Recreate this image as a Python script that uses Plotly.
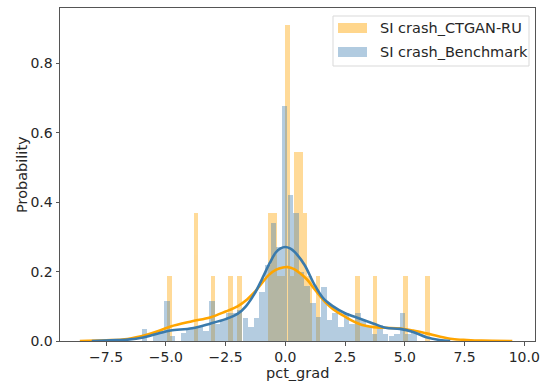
import plotly.graph_objects as go

# ---- data ----
orange_centers = [-4.85, -3.75, -3.02, -2.29, -1.92, -0.64, -0.46, -0.27, -0.09, 0.09,
                  0.27, 0.46, 0.64, 0.82, 1.01, 1.37, 3.02, 3.75, 5.03, 5.95]
orange_heights = [0.186, 0.37, 0.186, 0.186, 0.186, 0.37, 0.37, 0.186, 0.186, 0.912,
                  0.186, 0.546, 0.546, 0.37, 0.186, 0.186, 0.186, 0.186, 0.186, 0.186]
orange_width = 0.183

blue_centers = [-5.90, -5.67, -5.43, -5.20, -4.96, -4.73, -4.49, -4.26, -4.02, -3.79,
                -3.55, -3.32, -3.08, -2.85, -2.61, -2.38, -2.14, -1.91, -1.67, -1.44,
                -1.20, -0.97, -0.73, -0.50, -0.26, -0.03, 0.21, 0.44, 0.68, 0.91,
                1.15, 1.38, 1.62, 1.85, 2.09, 2.32, 2.56, 2.79, 3.03, 3.26,
                3.50, 3.73, 3.97, 4.20, 4.44, 4.67, 4.91, 5.14, 5.38, 5.61]
blue_heights = [0.035, 0.0, 0.02, 0.03, 0.116, 0.014, 0.0, 0.024, 0.037, 0.037,
                0.041, 0.03, 0.114, 0.05, 0.06, 0.08, 0.08, 0.09, 0.065, 0.04,
                0.065, 0.14, 0.22, 0.34, 0.27, 0.677, 0.42, 0.37, 0.2, 0.16,
                0.11, 0.07, 0.155, 0.06, 0.08, 0.04, 0.08, 0.05, 0.08, 0.06,
                0.04, 0.02, 0.045, 0.02, 0.015, 0.02, 0.08, 0.02, 0.03, 0.0]
blue_width = 0.235

orange_kde_x = [-8.6, -7.5, -6.6, -5.8, -5.25, -4.8, -3.9, -3.15, -2.5, -2.0, -1.6, -1.3,
                -1.0, -0.7, -0.4, -0.1, 0.1, 0.35, 0.6, 0.9, 1.25, 1.7, 2.0, 2.5, 3.1,
                3.7, 4.2, 4.8, 5.35, 5.9, 6.45, 7.0, 7.6, 8.2, 9.5]
orange_kde_y = [0.0, 0.002, 0.006, 0.018, 0.03, 0.042, 0.057, 0.068, 0.085, 0.1, 0.12, 0.14,
                0.165, 0.19, 0.205, 0.212, 0.213, 0.208, 0.196, 0.178, 0.147, 0.11, 0.092,
                0.07, 0.049, 0.04, 0.038, 0.036, 0.03, 0.022, 0.013, 0.006, 0.003, 0.001, 0.0]

blue_kde_x = [-8.1, -7.3, -6.6, -5.95, -5.25, -4.8, -3.9, -3.15, -2.5, -2.0, -1.65, -1.3,
              -1.0, -0.65, -0.4, -0.2, 0.0, 0.2, 0.4, 0.8, 1.2, 1.6, 2.0, 2.5, 3.1, 3.7,
              4.2, 4.8, 5.35, 5.9, 6.45, 6.9]
blue_kde_y = [0.0, 0.002, 0.004, 0.01, 0.023, 0.03, 0.037, 0.05, 0.063, 0.078, 0.1, 0.135,
              0.175, 0.225, 0.255, 0.267, 0.271, 0.267, 0.256, 0.22, 0.165, 0.122, 0.1,
              0.08, 0.065, 0.05, 0.038, 0.035, 0.026, 0.011, 0.003, 0.0]

x_tick_vals = [-7.5, -5.0, -2.5, 0.0, 2.5, 5.0, 7.5, 10.0]
x_tick_text = ["\u22127.5", "\u22125.0", "\u22122.5", "0.0", "2.5", "5.0", "7.5", "10.0"]
y_tick_vals = [0.0, 0.2, 0.4, 0.6, 0.8]
y_tick_text = ["0.0", "0.2", "0.4", "0.6", "0.8"]

series_names = ["SI crash_CTGAN-RU", "SI crash_Benchmark"]
x_title = "pct_grad"
y_title = "Probability"

ORANGE = "rgb(255,165,0)"
BLUE_BAR = "rgb(70,130,180)"
BLUE_LINE = "rgb(58,122,172)"
FONT = "DejaVu Sans"
TXT = "#262626"

fig = go.Figure()
fig.add_trace(go.Bar(x=orange_centers, y=orange_heights, width=orange_width,
                     marker=dict(color=ORANGE, line=dict(width=0)), opacity=0.4,
                     name=series_names[0], showlegend=False))
fig.add_trace(go.Bar(x=blue_centers, y=blue_heights, width=blue_width,
                     marker=dict(color=BLUE_BAR, line=dict(width=0)), opacity=0.4,
                     name=series_names[1], showlegend=False))
fig.add_trace(go.Scatter(x=orange_kde_x, y=orange_kde_y, mode="lines",
                         line=dict(color=ORANGE, width=2.6, shape="spline", smoothing=1),
                         showlegend=False))
fig.add_trace(go.Scatter(x=blue_kde_x, y=blue_kde_y, mode="lines",
                         line=dict(color=BLUE_LINE, width=2.6, shape="spline", smoothing=1),
                         showlegend=False))

# plot area in pixels: x 60..535, y 8..341
L, R, T, B = 60, 535, 8, 341
W, H = R - L, B - T
def px(x):
    return (x - L) / W
def py(y):
    return (B - y) / H

shapes = [
    dict(type="rect", xref="paper", yref="paper", x0=px(333), x1=px(529), y0=py(66), y1=py(16),
         line=dict(color="#d9d9d9", width=1), fillcolor="rgba(255,255,255,0.8)", layer="above"),
    dict(type="rect", xref="paper", yref="paper", x0=px(338), x1=px(367), y0=py(33), y1=py(23),
         line=dict(width=0), fillcolor="rgba(255,165,0,0.45)", layer="above"),
    dict(type="rect", xref="paper", yref="paper", x0=px(338), x1=px(367), y0=py(57), y1=py(47),
         line=dict(width=0), fillcolor="rgba(70,130,180,0.42)", layer="above"),
]
annotations = [
    dict(xref="paper", yref="paper", x=px(378), y=py(28), text=series_names[0], showarrow=False,
         xanchor="left", yanchor="middle", font=dict(family=FONT, size=14.5, color=TXT)),
    dict(xref="paper", yref="paper", x=px(378), y=py(52), text=series_names[1], showarrow=False,
         xanchor="left", yanchor="middle", font=dict(family=FONT, size=14.5, color=TXT)),
    dict(xref="paper", yref="paper", x=px(297.5), y=py(381.5), text=x_title, showarrow=False,
         xanchor="center", yanchor="bottom", borderpad=0,
         font=dict(family=FONT, size=14.5, color=TXT)),
    dict(xref="paper", yref="paper", x=px(22), y=py(175), text=y_title, showarrow=False,
         textangle=-90, xanchor="center", yanchor="middle",
         font=dict(family=FONT, size=14.5, color=TXT)),
]

fig.update_layout(
    width=542, height=382,
    margin=dict(l=L, r=542 - R, t=T, b=382 - B),
    paper_bgcolor="white", plot_bgcolor="white",
    barmode="overlay", bargap=0,
    font=dict(family=FONT, size=14, color=TXT),
    shapes=shapes, annotations=annotations,
    showlegend=False,
)
fig.update_xaxes(range=[-9.43, 10.45], tickvals=x_tick_vals, ticktext=x_tick_text,
                 automargin=False,
                 showgrid=False, zeroline=False, showline=True, mirror=True,
                 linecolor="#555", linewidth=1, ticks="outside", ticklen=3.5, tickcolor="#555",
                 tickfont=dict(family=FONT, size=14, color=TXT))
fig.update_yaxes(range=[0, 0.96], tickvals=y_tick_vals, ticktext=y_tick_text,
                 automargin=False,
                 showgrid=False, zeroline=False, showline=True, mirror=True,
                 linecolor="#555", linewidth=1, ticks="outside", ticklen=3.5, tickcolor="#555",
                 tickfont=dict(family=FONT, size=14, color=TXT))

fig.write_html("out.html")
